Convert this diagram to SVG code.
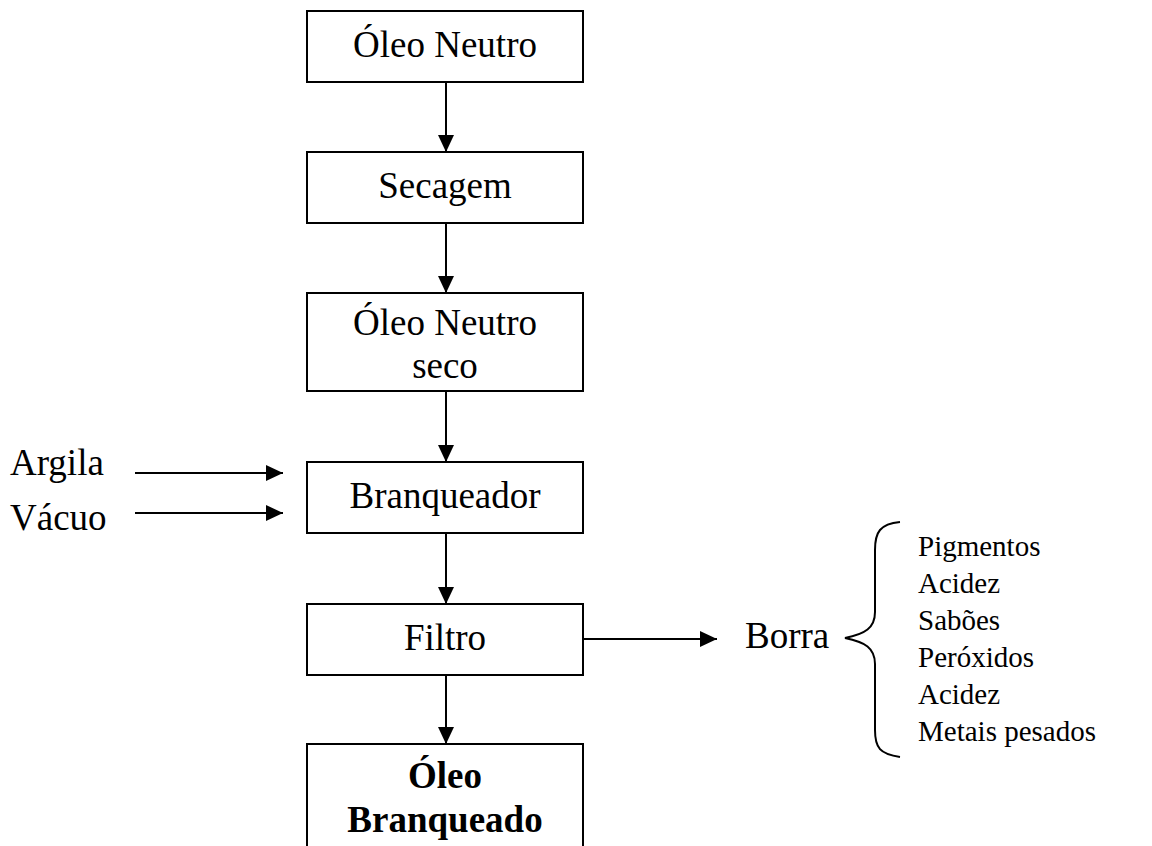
<svg xmlns="http://www.w3.org/2000/svg" width="1152" height="846" viewBox="0 0 1152 846">
<style>
.box{fill:#fff;stroke:#000;stroke-width:2}
.t{font-family:"Liberation Serif","Times New Roman",serif;font-size:37px;fill:#000}
.c{text-anchor:middle}
.s{font-size:29px}
.b{font-weight:bold}
.ln{stroke:#000;stroke-width:2;fill:none}
</style>
<defs>
<marker id="ah" markerUnits="userSpaceOnUse" markerWidth="17" markerHeight="16" refX="17" refY="8" orient="auto">
<path d="M0,0 L17,8 L0,16 z" fill="#000"/>
</marker>
</defs>
<rect width="1152" height="846" fill="#fff"/>
<g id="n1"><rect class="box" x="307" y="11" width="276" height="71"/><text class="t c" x="445" y="57">Óleo Neutro</text></g>
<g id="n2"><rect class="box" x="307" y="152" width="276" height="71"/><text class="t c" x="445" y="198">Secagem</text></g>
<g id="n3"><rect class="box" x="307" y="293" width="276" height="98"/><text class="t c" x="445" y="335">Óleo Neutro</text><text class="t c" x="445" y="378">seco</text></g>
<g id="n4"><rect class="box" x="307" y="462" width="276" height="71"/><text class="t c" x="445" y="508">Branqueador</text></g>
<g id="n5"><rect class="box" x="307" y="604" width="276" height="71"/><text class="t c" x="445" y="650">Filtro</text></g>
<g id="n6"><rect class="box" x="307" y="744" width="276" height="120"/><text class="t c b" x="445" y="788">Óleo</text><text class="t c b" x="445" y="832">Branqueado</text></g>
<g id="in"><text class="t" x="10" y="475">Argila</text><text class="t" x="10" y="530">Vácuo</text></g>
<g id="borra"><text class="t" x="745" y="648">Borra</text></g>
<g id="list">
<path class="ln" d="M900,522 C880,524 875,532 875,550 L875,612 C875,628 865,634 845,638 C865,642 875,648 875,664 L875,730 C875,748 880,754 900,757" stroke-width="1.5"/>
<text class="t s" x="918" y="556">Pigmentos</text>
<text class="t s" x="918" y="593">Acidez</text>
<text class="t s" x="918" y="630">Sabões</text>
<text class="t s" x="918" y="667">Peróxidos</text>
<text class="t s" x="918" y="704">Acidez</text>
<text class="t s" x="918" y="741">Metais pesados</text>
</g>
<g id="connectors">
<line class="ln" x1="446" y1="82" x2="446" y2="152" marker-end="url(#ah)"/>
<line class="ln" x1="446" y1="223" x2="446" y2="293" marker-end="url(#ah)"/>
<line class="ln" x1="446" y1="391" x2="446" y2="462" marker-end="url(#ah)"/>
<line class="ln" x1="446" y1="533" x2="446" y2="604" marker-end="url(#ah)"/>
<line class="ln" x1="446" y1="675" x2="446" y2="744" marker-end="url(#ah)"/>
<line class="ln" x1="135" y1="473" x2="283" y2="473" marker-end="url(#ah)"/>
<line class="ln" x1="135" y1="513" x2="283" y2="513" marker-end="url(#ah)"/>
<line class="ln" x1="583" y1="639" x2="717" y2="639" marker-end="url(#ah)"/>
</g>
</svg>
